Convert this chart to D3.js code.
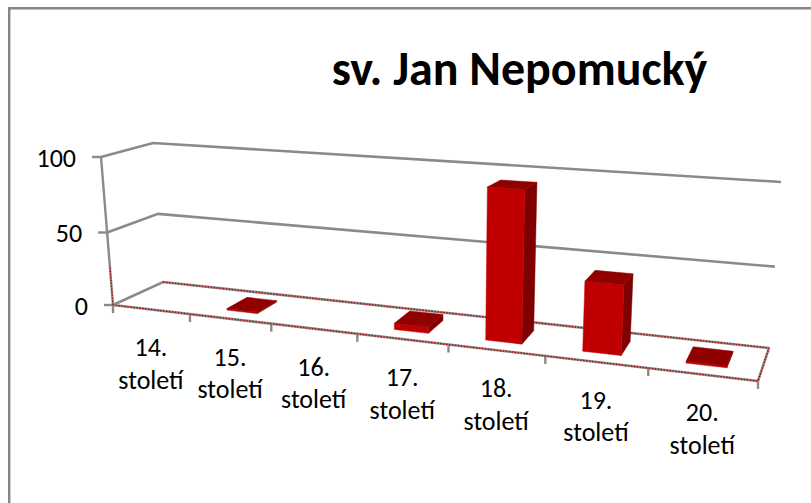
<!DOCTYPE html>
<html><head><meta charset="utf-8">
<script src="https://cdn.jsdelivr.net/npm/d3@7"></script>
<style>html,body{margin:0;padding:0;background:#fff}svg{display:block}text{font-family:Carlito,Lato,"Open Sans",sans-serif;fill:#000}</style>
</head><body><svg id="c" width="811" height="503"></svg>
<script>
const categories = ["14.","15.","16.","17.","18.","19.","20."];
const categorySuffix = "století";
const values = [0, 1, 0, 4, 93, 42, 1];
const valueTicks = [0, 50, 100];
const chartTitle = "sv. Jan Nepomucký";

const svg = d3.select("#c");
const GRAY = "#8a8a8a";
// chart frame: only top and left edges fall inside the picture
svg.append("path").attr("d",d3.line()([[9.2,503],[9.2,8.2],[811,8.2]])).attr("fill","none").attr("stroke","#868686").attr("stroke-width",2.4);

// perspective frame (front-left, front-right, back-right, back-left), floor and top plane
const floor = [[113,305],[758,381],[769,348],[163,282]];
const top100 = [[101,157],[770,196],[781,182],[153,143]];
const PERSP = 1.23;
const uScale = d3.scaleBand().domain(categories).range([0,1]);
const yScale = d3.scaleLinear().domain([0,50,100]).range([0,0.49,1]);
const lerp = (a,b,t)=>[a[0]+(b[0]-a[0])*t,a[1]+(b[1]-a[1])*t];
const bil = (q,t,v)=>lerp(lerp(q[0],q[1],t),lerp(q[3],q[2],t),v);
function P(u,v,val){
  const t = u/(u+PERSP*(1-u));
  return lerp(bil(floor,t,v),bil(top100,t,v),yScale(val));
}
const line = d3.line();
const path = (pts,stroke,w,extra)=>{
  const p = svg.append("path").attr("d",line(pts)).attr("fill","none").attr("stroke",stroke).attr("stroke-width",w);
  if(extra) p.attr("stroke-dasharray",extra);
  return p;
};

// walls / gridlines
valueTicks.forEach(d=>{
  path([P(0,0,d),P(0,1,d),P(1,1,d)],GRAY,2.6);
  const a=P(0,0,d);
  path([[a[0]-9,a[1]],a],GRAY,2.4);
  svg.append("text").attr("x",a[0]-25).attr("y",a[1]+9.5).attr("text-anchor","end").attr("font-size",26).text(d);
});
path([P(0,0,0),P(0,0,100)],GRAY,2.4);
// floor front and right edges
path([P(0,0,0),P(1,0,0),P(1,1,0)],GRAY,2.6);
// category ticks
d3.range(0,categories.length+1).forEach(i=>{
  const a=P(i/categories.length,0,0);
  path([a,[a[0],a[1]+8]],GRAY,2.4);
});
// red dotted zero-plane outline
const RED="#c00000";
path([P(0,1,0),P(1,1,0),P(1,0,0),P(0,0,0)],RED,1.3,"1.5 1.5");
path([P(0,0,0),P(0,0,27)],RED,1.2,"1.5 1.5");

// bars
const BW = 0.19, D0 = 0.28, D1 = 0.74;
categories.forEach((c,i)=>{
  const val=values[i];
  if(val<=0) return;
  const u0=uScale(c)+uScale.bandwidth()*(0.5-BW), u1=uScale(c)+uScale.bandwidth()*(0.5+BW);
  const fl=P(u0,D0,0), fr=P(u1,D0,0), br=P(u1,D1,0);
  const tfl=P(u0,D0,val), tfr=P(u1,D0,val), tbr=P(u1,D1,val), tbl=P(u0,D1,val);
  const g=svg.append("g");
  const poly=(pts,f)=>g.append("polygon").attr("points",pts.join(" ")).attr("fill",f).attr("stroke",f).attr("stroke-width",.5);
  poly([fr,br,tbr,tfr],"#7f0000");
  poly([fl,fr,tfr,tfl],"#c00000");
  poly([tfl,tfr,tbr,tbl],"#900000");
});

// category labels
categories.forEach(c=>{
  const a=P(uScale(c)+uScale.bandwidth()/2,0,0);
  const t=svg.append("text").attr("text-anchor","middle").attr("font-size",26);
  t.append("tspan").attr("x",a[0]).attr("y",a[1]+47).text(c);
  t.append("tspan").attr("x",a[0]).attr("y",a[1]+79.5).text(categorySuffix);
});

svg.append("text").attr("x",519.5).attr("y",85).attr("text-anchor","middle").attr("font-size",48).attr("font-weight",700).text(chartTitle);
</script></body></html>
